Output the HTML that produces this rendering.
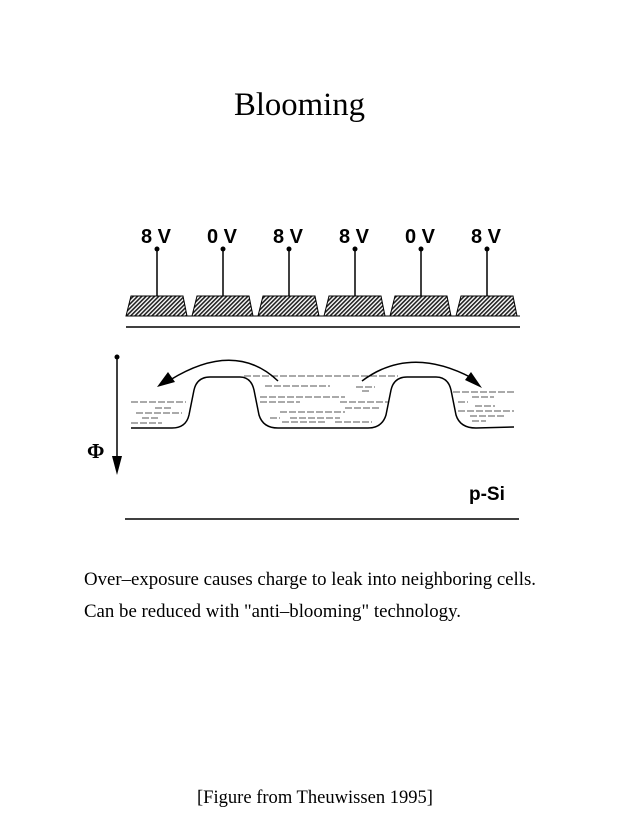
<!DOCTYPE html>
<html><head><style>html,body{margin:0;padding:0;background:#fff;}svg{display:block}</style></head>
<body>
<svg width="637" height="825" viewBox="0 0 637 825" xmlns="http://www.w3.org/2000/svg">
<defs>
<pattern id="h" width="3" height="3" patternUnits="userSpaceOnUse" patternTransform="rotate(45)">
<rect width="3" height="3" fill="#fff"/><rect width="1.6" height="3" fill="#222"/></pattern>
</defs>
<text x="234" y="115" font-family="Liberation Serif, serif" font-size="33" textLength="131" lengthAdjust="spacingAndGlyphs">Blooming</text>
<g font-family="Liberation Sans, sans-serif" font-weight="bold" font-size="20">
<text x="141" y="243">8 V</text><text x="207" y="243">0 V</text><text x="273" y="243">8 V</text>
<text x="339" y="243">8 V</text><text x="405" y="243">0 V</text><text x="471" y="243">8 V</text>
</g>
<g stroke="#000" stroke-width="1.5">
<line x1="157" y1="249" x2="157" y2="296"/><line x1="223" y1="249" x2="223" y2="296"/>
<line x1="289" y1="249" x2="289" y2="296"/><line x1="355" y1="249" x2="355" y2="296"/>
<line x1="421" y1="249" x2="421" y2="296"/><line x1="487" y1="249" x2="487" y2="296"/>
</g>
<g fill="#000"><circle cx="157" cy="249" r="2.5"/><circle cx="223" cy="249" r="2.5"/><circle cx="289" cy="249" r="2.5"/><circle cx="355" cy="249" r="2.5"/><circle cx="421" cy="249" r="2.5"/><circle cx="487" cy="249" r="2.5"/></g>
<g fill="url(#h)" stroke="#000" stroke-width="1">
<polygon points="131,296 183,296 187,316 126,316"/>
<polygon points="197,296 249,296 253,316 192,316"/>
<polygon points="263,296 315,296 319,316 258,316"/>
<polygon points="329,296 381,296 385,316 324,316"/>
<polygon points="395,296 447,296 451,316 390,316"/>
<polygon points="461,296 513,296 517,316 456,316"/>
</g>
<line x1="126" y1="316" x2="520" y2="316" stroke="#000" stroke-width="1"/>
<line x1="126" y1="327" x2="520" y2="327" stroke="#000" stroke-width="1.5"/>
<path d="M131,428 L172,428 Q186,428 189,415 L194,390 Q197,377 210,377 L240,377 Q251,377 254,390 L259,415 Q263,428 278,428 L368,428 Q382,428 386,415 L391,390 Q394,377 407,377 L436,377 Q448,377 451,390 L456,415 Q460,428 476,428 L514,427" fill="none" stroke="#000" stroke-width="1.5"/>
<g stroke="#555" stroke-width="1" stroke-dasharray="7,2">
<line x1="131" y1="402" x2="186" y2="402"/><line x1="155" y1="408" x2="172" y2="408"/>
<line x1="136" y1="413" x2="182" y2="413"/><line x1="142" y1="418" x2="160" y2="418"/>
<line x1="131" y1="423" x2="162" y2="423"/>
<line x1="244" y1="376" x2="398" y2="376"/>
<line x1="265" y1="386" x2="330" y2="386"/><line x1="356" y1="387" x2="375" y2="387"/>
<line x1="260" y1="397" x2="345" y2="397"/><line x1="362" y1="391" x2="370" y2="391"/>
<line x1="260" y1="402" x2="300" y2="402"/><line x1="340" y1="402" x2="388" y2="402"/>
<line x1="280" y1="412" x2="345" y2="412"/><line x1="345" y1="408" x2="380" y2="408"/>
<line x1="290" y1="418" x2="340" y2="418"/><line x1="270" y1="418" x2="280" y2="418"/>
<line x1="282" y1="422" x2="325" y2="422"/><line x1="335" y1="422" x2="372" y2="422"/>
<line x1="453" y1="392" x2="514" y2="392"/><line x1="472" y1="397" x2="494" y2="397"/>
<line x1="458" y1="402" x2="468" y2="402"/><line x1="475" y1="406" x2="495" y2="406"/>
<line x1="458" y1="411" x2="514" y2="411"/><line x1="470" y1="416" x2="505" y2="416"/>
<line x1="472" y1="421" x2="486" y2="421"/>
</g>
<path d="M278,381 Q235,340 170,380" fill="none" stroke="#000" stroke-width="1.5"/>
<polygon points="157,387 168,372 175,382" fill="#000"/>
<path d="M362,381 Q410,345 472,378" fill="none" stroke="#000" stroke-width="1.5"/>
<polygon points="482,388 465,380 471,372" fill="#000"/>
<circle cx="117" cy="357" r="2.5" fill="#000"/>
<line x1="117" y1="357" x2="117" y2="460" stroke="#000" stroke-width="1.5"/>
<polygon points="112,456 122,456 117,475" fill="#000"/>
<text x="87" y="458" font-family="Liberation Serif, serif" font-weight="bold" font-size="21">Φ</text>
<text x="469" y="500" font-family="Liberation Sans, sans-serif" font-weight="bold" font-size="19">p-Si</text>
<line x1="125" y1="519" x2="519" y2="519" stroke="#000" stroke-width="1.5"/>
<g font-family="Liberation Serif, serif" font-size="19">
<text x="84" y="585" textLength="452" lengthAdjust="spacingAndGlyphs">Over–exposure causes charge to leak into neighboring cells.</text>
<text x="84" y="617" textLength="377" lengthAdjust="spacingAndGlyphs">Can be reduced with "anti–blooming" technology.</text>
<text x="197" y="803" textLength="236" lengthAdjust="spacingAndGlyphs">[Figure from Theuwissen 1995]</text>
</g>
</svg>
</body></html>
